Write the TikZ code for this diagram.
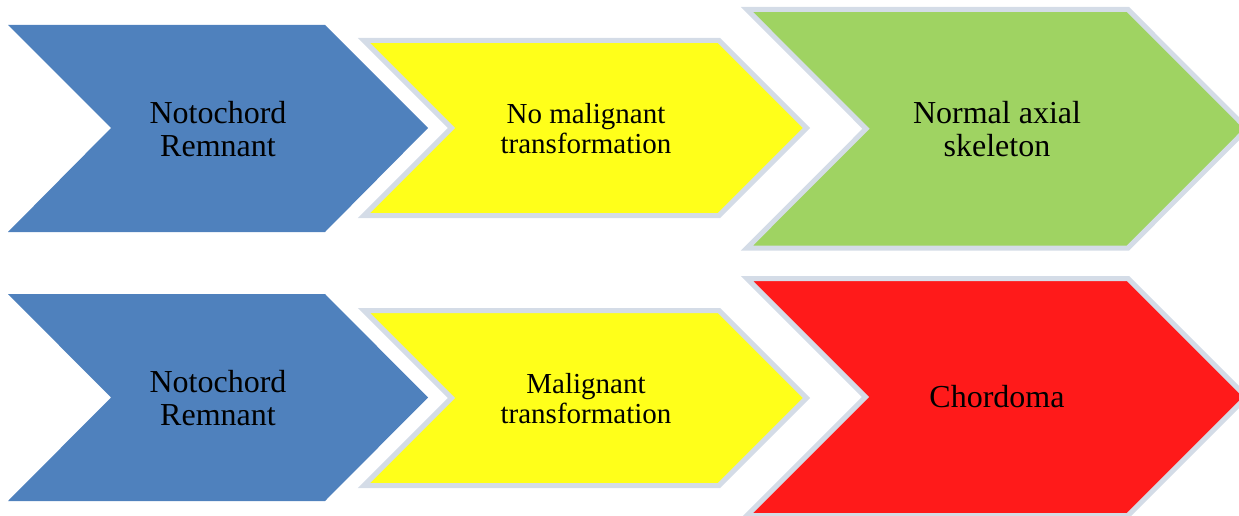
\documentclass[tikz,border=0pt]{standalone}
\usepackage{fontspec}
\setmainfont{Liberation Serif}
\definecolor{cblue}{HTML}{4F81BD}
\definecolor{cyellow}{HTML}{FFFF1A}
\definecolor{cgreen}{HTML}{9FD362}
\definecolor{cred}{HTML}{FF1A1A}
\definecolor{cborder}{HTML}{D4DCE7}
\tikzset{
  plainchev/.style={fill=cblue, draw=none},
  borderchev/.style={draw=cborder, line width=5pt, line join=miter, miter limit=10},
  bigtext/.style={align=center, font=\fontsize{32}{33}\selectfont, inner sep=0pt},
  smalltext/.style={align=center, font=\fontsize{29}{30}\selectfont, inner sep=0pt},
}
\begin{document}
\begin{tikzpicture}[x=1pt,y=-1pt]
\useasboundingbox (0,0) rectangle (1239,516);
% ---- top row ----
\path[plainchev] (8,25) -- (325,25) -- (428,128) -- (325,232) -- (8,232) -- (111,128) -- cycle;
\path[borderchev, fill=cyellow] (364,40.5) -- (719,40.5) -- (806.5,128) -- (719,215.5) -- (364,215.5) -- (451.5,128) -- cycle;
\path[borderchev, fill=cgreen] (747,9.5) -- (1128,9.5) -- (1247,128.75) -- (1128,248) -- (747,248) -- (866,128.75) -- cycle;
\node[bigtext] (t1) at (218,129) {Notochord\\Remnant};
\node[smalltext] (t2) at (586,129) {No malignant\\transformation};
\node[bigtext] (t3) at (997,129) {Normal axial\\skeleton};
% ---- bottom row ----
\path[plainchev] (8,294) -- (325,294) -- (428,397.5) -- (325,501) -- (8,501) -- (111,397.5) -- cycle;
\path[borderchev, fill=cyellow] (364,310.5) -- (719,310.5) -- (806.5,398) -- (719,485.5) -- (364,485.5) -- (451.5,398) -- cycle;
\path[borderchev, fill=cred] (747,278.5) -- (1128,278.5) -- (1246.5,397) -- (1128,515.5) -- (747,515.5) -- (865.5,397) -- cycle;
\node[bigtext] (b1) at (218,398) {Notochord\\Remnant};
\node[smalltext] (b2) at (586,399) {Malignant\\transformation};
\node[bigtext] (b3) at (997,397) {Chordoma};
\end{tikzpicture}
\end{document}
